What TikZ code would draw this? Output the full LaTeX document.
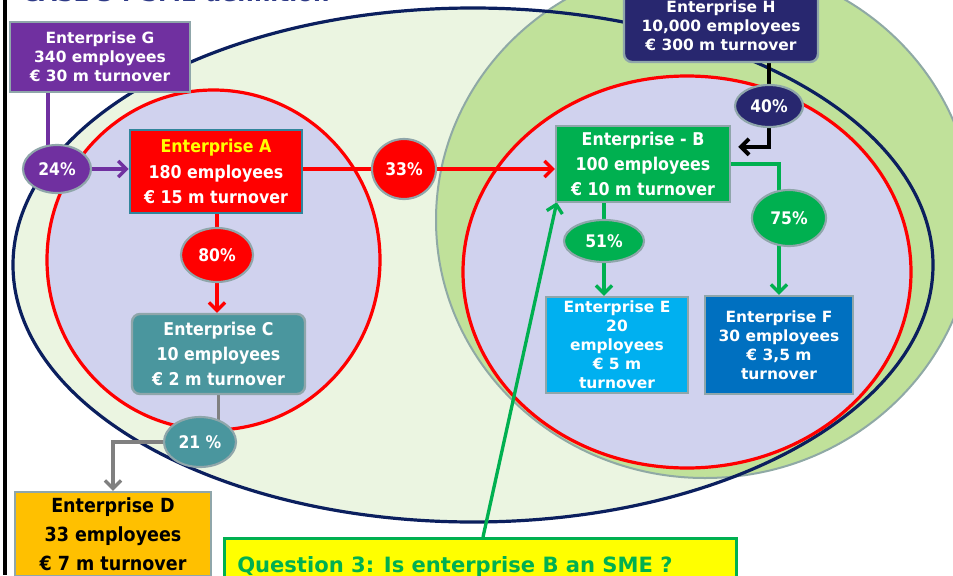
\documentclass[tikz,border=0pt]{standalone}
\usepackage{fontspec}
\setmainfont{DejaVu Sans}
\newfontfamily\verd{DejaVu Sans Bold}
\newfontfamily\taho{DejaVu Sans Condensed Bold}
\usetikzlibrary{shapes.geometric,arrows.meta}
\pgfdeclarelayer{back}
\pgfdeclarelayer{conn}
\pgfsetlayers{back,conn,main}
\definecolor{outerfill}{HTML}{EBF5E1}
\definecolor{grnfill}{HTML}{C0E19A}
\definecolor{grnedge}{HTML}{8FA9A5}
\definecolor{navyline}{HTML}{0B1F5E}
\definecolor{lav}{HTML}{D0D2EE}
\definecolor{redc}{HTML}{FF0000}
\definecolor{purp}{HTML}{7030A0}
\definecolor{tealb}{HTML}{31859C}
\definecolor{grnb}{HTML}{00B050}
\definecolor{navyb}{HTML}{28276F}
\definecolor{tealc}{HTML}{4A969E}
\definecolor{orng}{HTML}{FFC000}
\definecolor{cyanb}{HTML}{00B0F0}
\definecolor{blueb}{HTML}{0070C0}
\definecolor{grayb}{HTML}{8FA6AA}
\definecolor{grayl}{HTML}{808080}
\definecolor{titlec}{HTML}{2E3A87}
\definecolor{yel}{HTML}{FFFF00}
\begin{document}
\begin{tikzpicture}[x=0.75pt,y=-0.75pt,
  bx/.style={draw=grayb, line width=1.8pt, inner sep=0pt, align=center, text=white},
  vfont/.style={font=\verd\fontsize{11.6}{14.25}\selectfont},
  tfont/.style={font=\taho\fontsize{13.2}{19}\selectfont},
  pct/.style={ellipse, draw=grayb, line width=1.6pt, inner sep=0pt, text=white, font=\taho\fontsize{13}{15}\selectfont},
  conn/.style={line width=2.5pt},
  arr/.style={-{Straight Barb[length=6pt,width=12pt]}}
]
\useasboundingbox (0,0) rectangle (953,575);
\begin{pgfonlayer}{back}
\fill[white] (0,0) rectangle (953,575);
\fill[outerfill] (473,265) ellipse [x radius=460*0.75pt, y radius=257*0.75pt];
\filldraw[fill=grnfill, draw=grnedge, line width=1.5pt] (705,220) ellipse [x radius=269*0.75pt, y radius=258*0.75pt];
\draw[navyline, line width=2.4pt] (473,265) ellipse [x radius=460*0.75pt, y radius=257*0.75pt];
\filldraw[fill=lav, draw=redc, line width=2.4pt] (213.5,260) ellipse [x radius=166.5*0.75pt, y radius=170*0.75pt];
\filldraw[fill=lav, draw=redc, line width=2.4pt] (687,272) ellipse [x radius=224*0.75pt, y radius=196*0.75pt];
\fill[black] (3,0) rectangle (7,575);
\node[anchor=base west, inner sep=0pt, text=titlec, font=\verd\fontsize{17.3}{20}\selectfont] (title) at (22,1.5) {CASE 3 : SME definition};
\end{pgfonlayer}

% boxes
\node[bx, vfont, fill=purp, minimum width=180*0.75pt, minimum height=70*0.75pt] (g) at (100,57) {Enterprise G\\340 employees\\€ 30 m turnover};
\node[bx, tfont, fill=redc, draw=tealb, line width=2.2pt, minimum width=172*0.75pt, minimum height=83*0.75pt] (a) at (216,171.5) {\textcolor{yel}{Enterprise A}\\180 employees\\€ 15 m turnover};
\node[bx, tfont, fill=grnb, minimum width=174*0.75pt, minimum height=76*0.75pt] (b) at (643,164) {Enterprise - B\\100 employees\\€ 10 m turnover};
\node[bx, vfont, fill=navyb, rounded corners=6pt, minimum width=194*0.75pt, minimum height=72*0.75pt] (h) at (721,26) {Enterprise H\\10,000 employees\\€ 300 m turnover};
\node[bx, tfont, fill=tealc, rounded corners=6pt, minimum width=173*0.75pt, minimum height=80*0.75pt] (c) at (218.5,354) {Enterprise C\\10 employees\\€ 2 m turnover};
\node[bx, font=\taho\fontsize{14.6}{21.75}\selectfont, text=black, fill=orng, minimum width=196*0.75pt, minimum height=84*0.75pt] (d) at (113,534) {Enterprise D\\33 employees\\€ 7 m turnover};
\node[bx, vfont, fill=cyanb, minimum width=142*0.75pt, minimum height=96*0.75pt] (e) at (617,345) {Enterprise E\\20\\employees\\€ 5 m\\turnover};
\node[bx, vfont, fill=blueb, minimum width=148*0.75pt, minimum height=98*0.75pt] (f) at (779,345) {Enterprise F\\30 employees\\€ 3,5 m\\turnover};
\node[draw=grnb, line width=2.3pt, fill=yel, anchor=north west, minimum width=512*0.75pt, minimum height=70*0.75pt] (q) at (223,537) {};
\node[anchor=base west, inner sep=0pt, text=grnb, font=\verd\fontsize{15.8}{18}\selectfont] (qt) at (237,572) {Question 3: Is enterprise B an SME ?};

% percentage ellipses
\node[pct, fill=purp, minimum width=68*0.75pt, minimum height=48*0.75pt] (e24) at (57,169) {24\%};
\node[pct, fill=redc, minimum width=64*0.75pt, minimum height=60*0.75pt] (e33) at (404,169) {33\%};
\node[pct, fill=redc, minimum width=72*0.75pt, minimum height=54*0.75pt] (e80) at (217,255) {80\%};
\node[pct, fill=tealc, minimum width=72*0.75pt, minimum height=50*0.75pt] (e21) at (200,442) {21 \%};
\node[pct, fill=navyb, minimum width=68*0.75pt, minimum height=42*0.75pt] (e40) at (769,106) {40\%};
\node[pct, fill=grnb, minimum width=80*0.75pt, minimum height=42*0.75pt] (e51) at (604,241) {51\%};
\node[pct, fill=grnb, minimum width=74*0.75pt, minimum height=56*0.75pt] (e75) at (789,218) {75\%};

% connectors
\begin{pgfonlayer}{conn}
\draw[conn, purp] ([xshift=-9*0.75pt]e24.center) -- ([xshift=-9*0.75pt]e24.center |- g.south);
\draw[conn, purp, arr] (e24.east) -- (a.west |- e24.east);
\draw[conn, redc, arr] (a.east |- e33) -- (b.west |- e33);
\draw[conn, redc] (a.south -| e80) -- (e80.center);
\draw[conn, redc, arr] (e80.center) -- (e80.center |- c.north);
\draw[conn, grayl] (c.south) -- (c.south |- e21.center);
\draw[conn, grayl, arr] (e21.center) -| (d.north);
\draw[conn, black, line width=3pt] (e40.center |- h.south) -- (e40.center);
\draw[conn, black, line width=3pt, arr] (e40.center) |- ([shift={(7,22)}]b.north east);
\draw[conn, grnb] (b.east) -| (f.north |- e75.center);
\draw[conn, grnb, arr] (f.north |- e75.center) -- (f.north);
\draw[conn, grnb] (b.south -| e51) -- (e51.center);
\draw[conn, grnb, arr] (e51.center) -- (e51.center |- e.north);
\draw[conn, grnb, arr] ([xshift=260*0.75pt]q.north west) -- ([shift={(2,-1)}]b.south west);
\end{pgfonlayer}
\end{tikzpicture}
\end{document}
